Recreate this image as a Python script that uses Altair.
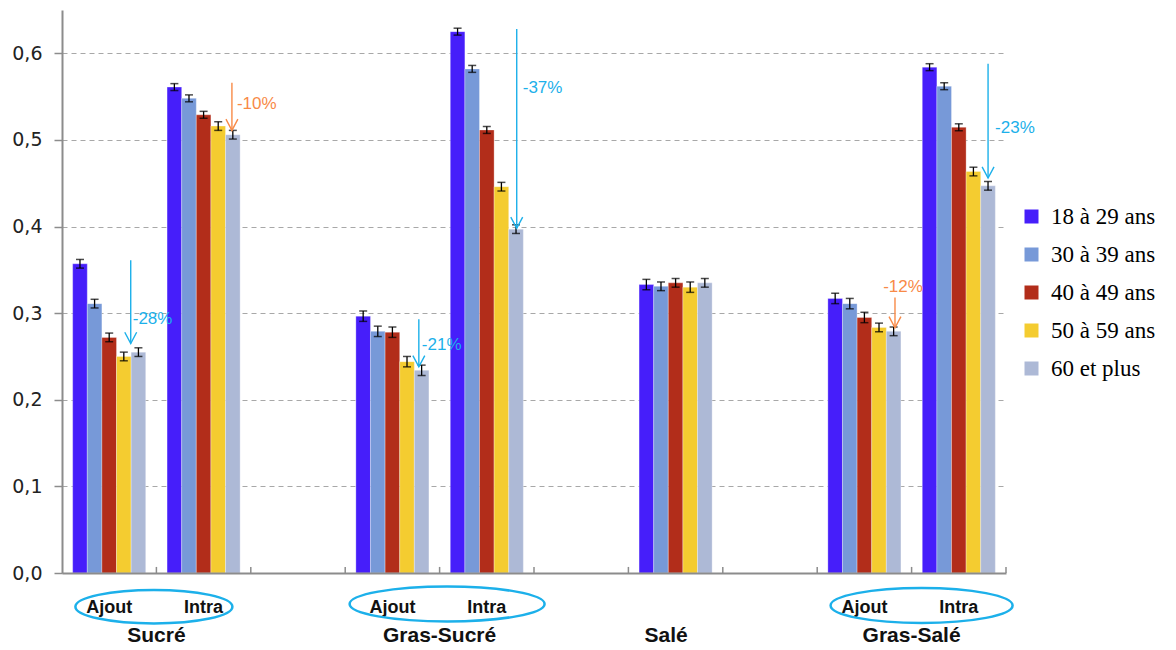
import altair as alt
import pandas as pd

# ---------------- data ----------------
slots = ["Sucré|Ajout", "Sucré|Intra", "gap1", "Gras-Sucré|Ajout", "Gras-Sucré|Intra",
         "gap2", "Salé", "gap3", "Gras-Salé|Ajout", "Gras-Salé|Intra"]
ages = ["18 à 29 ans", "30 à 39 ans", "40 à 49 ans", "50 à 59 ans", "60 et plus"]
colors = ["#461EFA", "#7799D8", "#B22D1A", "#F4CC30", "#ADB9D6"]

bar_slots = ["Sucré|Ajout", "Sucré|Intra", "Gras-Sucré|Ajout", "Gras-Sucré|Intra",
             "Salé", "Gras-Salé|Ajout", "Gras-Salé|Intra"]
values = [
    [0.357, 0.311, 0.272, 0.250, 0.255],   # Sucré Ajout
    [0.561, 0.548, 0.529, 0.516, 0.506],   # Sucré Intra
    [0.2965, 0.279, 0.278, 0.244, 0.234],  # Gras-Sucré Ajout
    [0.625, 0.582, 0.5115, 0.446, 0.397],  # Gras-Sucré Intra
    [0.333, 0.331, 0.335, 0.330, 0.335],   # Salé
    [0.317, 0.311, 0.295, 0.2835, 0.279],  # Gras-Salé Ajout
    [0.584, 0.562, 0.5146, 0.4635, 0.447], # Gras-Salé Intra
]
errors = [
    [0.005, 0.005, 0.005, 0.005, 0.005],
    [0.004, 0.004, 0.004, 0.005, 0.005],
    [0.006, 0.006, 0.006, 0.006, 0.006],
    [0.004, 0.004, 0.004, 0.005, 0.005],
    [0.006, 0.005, 0.005, 0.006, 0.005],
    [0.006, 0.006, 0.006, 0.005, 0.005],
    [0.004, 0.004, 0.004, 0.005, 0.005],
]

sub_slots = ["Sucré|Ajout", "Sucré|Intra", "Gras-Sucré|Ajout", "Gras-Sucré|Intra",
             "Gras-Salé|Ajout", "Gras-Salé|Intra"]
sub_text = ["Ajout", "Intra", "Ajout", "Intra", "Ajout", "Intra"]

pair_groups = ["Sucré", "Gras-Sucré", "Gras-Salé"]
pair_anchor = ["Sucré|Intra", "Gras-Sucré|Intra", "Gras-Salé|Intra"]
single_group = ["Salé"]
single_anchor = ["Salé"]

arrow_slots = ["Sucré|Ajout", "Sucré|Intra", "Gras-Sucré|Ajout", "Gras-Sucré|Intra",
               "Gras-Salé|Ajout", "Gras-Salé|Intra"]
arrow_from = [0.361, 0.566, 0.293, 0.628, 0.318, 0.588]
arrow_to = [0.265, 0.511, 0.238, 0.398, 0.283, 0.456]
arrow_text = ["-28%", "-10%", "-21%", "-37%", "-12%", "-23%"]
arrow_label_y = [0.293, 0.542, 0.263, 0.5596, 0.330, 0.5134]
arrow_kind = ["blue", "orange", "blue", "blue", "orange", "blue"]

# ---------------- styling ----------------
BLUE = "#1CB0EA"
ORANGE = "#F88A47"
kind_color = {"blue": BLUE, "orange": ORANGE}
arrow_band = [0.728, 0.80, 0.78, 0.817, 0.824, 0.81]
label_dx = [2, 5, 3, 6, 8, 7]
label_align = ["left", "left", "left", "left", "center", "left"]

rows = []
for s, vals, errs in zip(bar_slots, values, errors):
    for a, v, e in zip(ages, vals, errs):
        rows.append({"slot": s, "age": a, "value": v, "lo": v - e, "hi": v + e})
df = pd.DataFrame(rows)

x_scale = alt.Scale(domain=slots, paddingInner=0, paddingOuter=0)
xo_scale = alt.Scale(domain=ages, paddingInner=0, paddingOuter=0.73)
y_scale = alt.Scale(domain=[0, 0.65], nice=False, zero=True)

X = alt.X("slot:N", scale=x_scale,
          axis=alt.Axis(labels=False, ticks=False, grid=False, title=None,
                        domainColor="#8C8C8C", domainWidth=2, zindex=1))
XO = alt.XOffset("age:N", scale=xo_scale, sort=ages)

y_axis = alt.Axis(values=[0, 0.1, 0.2, 0.3, 0.4, 0.5, 0.6],
                  labelExpr="replace(format(datum.value, '.1f'), '.', ',')",
                  grid=True, gridDash=[5, 4], gridColor="#A8A8A8", gridWidth=1,
                  domainColor="#8C8C8C", domainWidth=2,
                  tickColor="#8C8C8C", tickSize=8, tickWidth=1.5,
                  labelFont="DejaVu Sans", labelFontSize=19, labelColor="#222222",
                  labelPadding=12, title=None)

base = alt.Chart(df)

bars = base.mark_bar(stroke="white", strokeWidth=0.6, strokeOpacity=0.5).encode(
    x=X, xOffset=XO,
    y=alt.Y("value:Q", scale=y_scale, axis=y_axis),
    color=alt.Color("age:N", sort=ages,
                    scale=alt.Scale(domain=ages, range=colors),
                    legend=alt.Legend(orient="none", legendX=958, legendY=195, title=None,
                                      symbolType="square", symbolSize=196,
                                      symbolStrokeWidth=0, symbolOpacity=1,
                                      labelFont="Liberation Serif", labelFontSize=23,
                                      labelColor="black", rowPadding=14, labelOffset=8)),
)

err_rule = base.mark_rule(color="black", strokeWidth=1.3).encode(
    x=X, xOffset=XO, y=alt.Y("lo:Q", scale=y_scale), y2="hi:Q")
cap_hi = base.mark_tick(color="black", size=8, thickness=1.5, orient="horizontal").encode(
    x=X, xOffset=XO, y=alt.Y("hi:Q", scale=y_scale))
cap_lo = base.mark_tick(color="black", size=8, thickness=1.5, orient="horizontal").encode(
    x=X, xOffset=XO, y=alt.Y("lo:Q", scale=y_scale))

# small upward ticks on x axis at slot boundaries
tick_df = pd.DataFrame({"slot": slots, "y0": [0.0] * len(slots), "y1": [0.007] * len(slots)})
x_ticks = alt.Chart(tick_df).mark_rule(color="#8C8C8C", strokeWidth=1.5).encode(
    x=alt.X("slot:N", scale=x_scale, bandPosition=1),
    y=alt.Y("y0:Q", scale=y_scale), y2="y1:Q")

sub_labels = alt.Chart(pd.DataFrame({"slot": sub_slots, "t": sub_text})).mark_text(
    font="Liberation Sans", fontSize=18, fontWeight="bold", color="#111111",
    baseline="middle", align="center").encode(
    x=alt.X("slot:N", scale=x_scale), y=alt.value(598), text="t:N")

group_labels = alt.Chart(pd.DataFrame({"slot": pair_anchor, "t": pair_groups})).mark_text(
    font="Liberation Sans", fontSize=21, fontWeight="bold", color="#111111",
    baseline="middle", align="center").encode(
    x=alt.X("slot:N", scale=x_scale, bandPosition=0), y=alt.value(626), text="t:N")
single_label = alt.Chart(pd.DataFrame({"slot": single_anchor, "t": single_group})).mark_text(
    font="Liberation Sans", fontSize=21, fontWeight="bold", color="#111111",
    baseline="middle", align="center").encode(
    x=alt.X("slot:N", scale=x_scale, bandPosition=0.4), y=alt.value(626), text="t:N")

# ellipses around Ajout / Intra
def ellipse_path(b):
    k = 0.5523
    return (f"M -1 0 C -1 {-k*b:.4f} {-k:.4f} {-b:.4f} 0 {-b:.4f} "
            f"C {k:.4f} {-b:.4f} 1 {-k*b:.4f} 1 0 "
            f"C 1 {k*b:.4f} {k:.4f} {b:.4f} 0 {b:.4f} "
            f"C {-k:.4f} {b:.4f} -1 {k*b:.4f} -1 0 Z")

ell_rx = [78.5, 97.5, 91]
ell_ry = [16.7, 17.5, 17.5]
ell_dx = [-2.5, 7.5, 10]
ell_cy = [596.7, 594, 595.5]
ellipses = []
for anchor, rx, ry, dx, cy in zip(pair_anchor, ell_rx, ell_ry, ell_dx, ell_cy):
    e = alt.Chart(pd.DataFrame({"slot": [anchor]})).mark_point(
        shape=ellipse_path(ry / rx), size=(2 * rx) ** 2, filled=False,
        color=BLUE, strokeWidth=2.5, opacity=1, xOffset=dx).encode(
        x=alt.X("slot:N", scale=x_scale, bandPosition=0), y=alt.value(cy))
    ellipses.append(e)

# arrows with percentages
arrows = []
head_path = "M -0.85 -1.6 L 0 0 L 0.85 -1.6"
for s, y0, y1, t, ly, kind, bp, ldx, al in zip(arrow_slots, arrow_from, arrow_to, arrow_text,
                                              arrow_label_y, arrow_kind, arrow_band,
                                              label_dx, label_align):
    c = kind_color[kind]
    adf = pd.DataFrame({"slot": [s], "y0": [y0], "y1": [y1], "t": [t], "ly": [ly]})
    ax = alt.X("slot:N", scale=x_scale, bandPosition=bp)
    ch = alt.Chart(adf)
    arrows.append(ch.mark_rule(color=c, strokeWidth=1.4).encode(
        x=ax, y=alt.Y("y0:Q", scale=y_scale), y2="y1:Q"))
    arrows.append(ch.mark_point(shape=head_path, size=196, filled=False, color=c,
                                strokeWidth=1.4, opacity=1).encode(
        x=ax, y=alt.Y("y1:Q", scale=y_scale)))
    arrows.append(ch.mark_text(font="Liberation Sans", fontSize=17, color=c,
                               align=al, baseline="middle", dx=ldx).encode(
        x=ax, y=alt.Y("ly:Q", scale=y_scale), text="t:N"))

chart = alt.layer(bars, err_rule, cap_hi, cap_lo, x_ticks, sub_labels, group_labels,
                  single_label, *ellipses, *arrows).properties(
    width=944, height=563,
    padding={"left": 54, "top": 2, "right": 162, "bottom": 76},
    autosize=alt.AutoSizeParams(type="none"),
).configure_view(stroke=None)

chart.save("out.html", embed_options={"renderer": "svg", "actions": False})
